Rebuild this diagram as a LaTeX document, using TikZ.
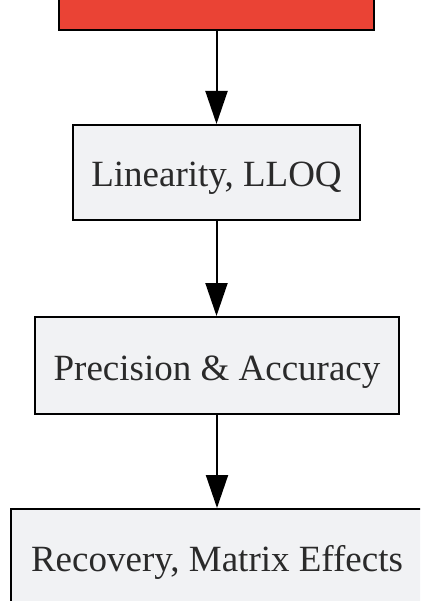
\documentclass[tikz,border=0pt]{standalone}
\usepackage{fontspec}
\setmainfont{Liberation Serif}
\usetikzlibrary{arrows.meta}
\definecolor{boxfill}{HTML}{F1F2F4}
\definecolor{topred}{HTML}{EA4335}
\definecolor{txt}{HTML}{2A2A2A}
\begin{document}
\begin{tikzpicture}[x=1pt,y=-1pt,
  stepbox/.style={draw=black, line width=2pt, fill=boxfill, text=txt, inner sep=0pt,
    text height=29pt, text depth=0pt,
    font=\fontsize{37}{44}\selectfont},
  flow/.style={line width=2pt, -{Triangle[length=33pt,width=22pt]}}]
\useasboundingbox (0,0) rectangle (420,601);
\clip (0,0) rectangle (420,601);
\node[stepbox, fill=topred, minimum width=315pt, minimum height=90pt] (top) at (216.5,-15) {};
\node[stepbox, minimum width=287pt, minimum height=95pt] (lin) at (216.5,172.5) {Linearity, LLOQ};
\node[stepbox, minimum width=364pt, minimum height=97pt] (prec) at (217,365.5) {Precision \& Accuracy};
\node[stepbox, minimum width=412pt, minimum height=95pt] (rec) at (217,556.5) {Recovery, Matrix Effects};
\draw[flow] (top.south -| lin.north) -- (lin.north);
\draw[flow] (lin.south) -- (prec.north -| lin.south);
\draw[flow] (prec.south) -- (rec.north -| prec.south);
\end{tikzpicture}
\end{document}
